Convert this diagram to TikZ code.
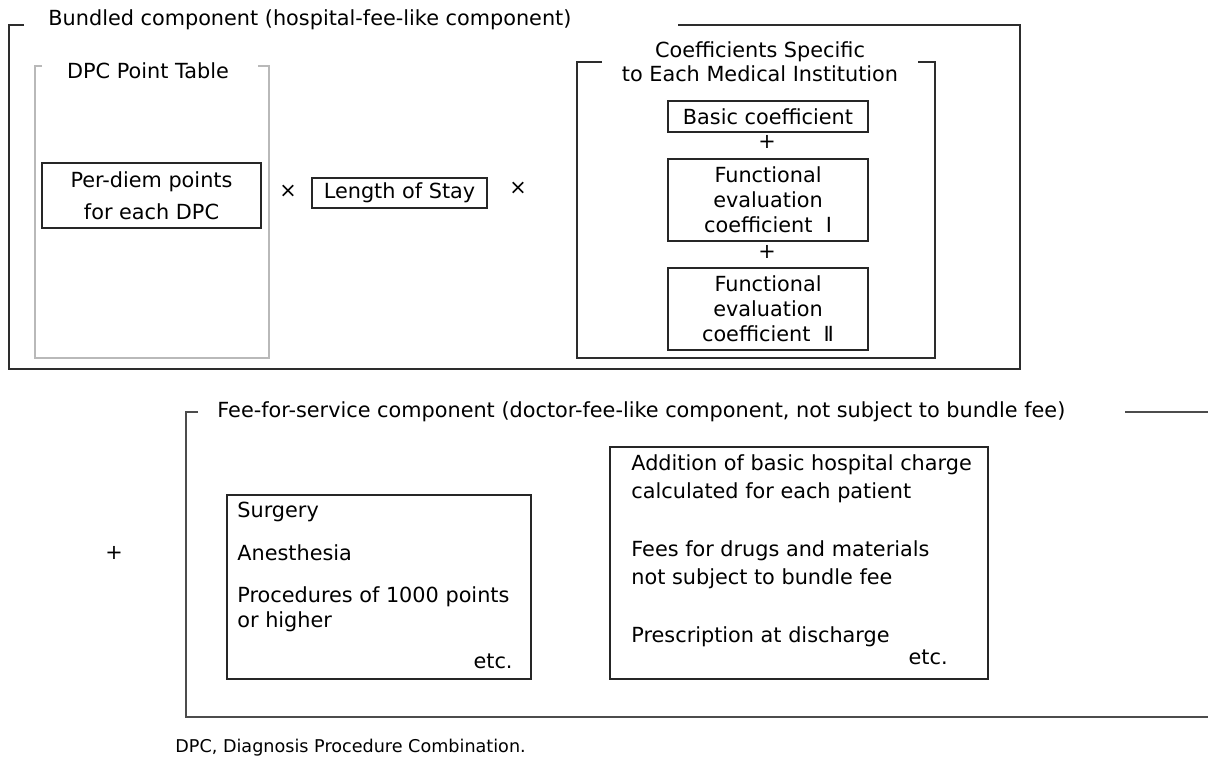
\documentclass[tikz,border=0pt]{standalone}
\usepackage{fontspec}
\setmainfont{DejaVu Sans}
\usepackage{tikz}
\usepackage{xcolor}
\usetikzlibrary{positioning}
\definecolor{framegray}{RGB}{45,45,45}
\definecolor{tablegray}{RGB}{185,185,185}

\tikzset{
	outerframe/.style={draw=framegray, line width=1pt},
	feeframe/.style={draw=framegray!85, line width=0.8pt},
	tableframe/.style={draw=tablegray, line width=0.6pt},
	box/.style={draw=black!85, line width=0.6pt, inner sep=0pt, align=center, font=\fontsize{10.4}{12.5}\selectfont},
	lbl/.style={inner sep=0pt, font=\fontsize{10.4}{12.5}\selectfont},
}

\begin{document}
\begin{tikzpicture}[x=0.5pt,y=-0.5pt]
				\useasboundingbox (0,0) rectangle (1208,760);

				% partie forfaitaire
				\node[lbl, anchor=west] (bundtitle) at (48,20) {Bundled component (hospital-fee-like component)};
				\draw[outerframe] (24,25) -- (9,25) -- (9,369) -- (1020,369) -- (1020,25) -- (678,25);

				\node[lbl] (dpctitle) at (148,71) {DPC Point Table};
				\draw[tableframe] (42,66) -- (35,66) -- (35,358) -- (269,358) -- (269,66) -- (258,66);
				\node[box, minimum width=109.5pt, minimum height=32.5pt] (perdiem) at (151.5,195.5) {Per-diem points\\[3.5pt]for each DPC};

				\node[lbl] (timesone) at (288,191) {×};
				\node[box, minimum width=87.5pt, minimum height=15pt] (stay) at (399.5,193) {Length of Stay};
				\node[lbl] (timestwo) at (518,188) {×};

				\node[lbl, align=center, font=\fontsize{10.4}{12}\selectfont] (coeftitle) at (760,62) {Coefficients Specific\\to Each Medical Institution};
				\draw[outerframe, line width=0.7pt] (602,62) -- (577,62) -- (577,358) -- (935,358) -- (935,62) -- (918,62);
				\node[box, minimum width=100pt, minimum height=15.5pt] (basic) at (768,116.5) {Basic coefficient};
				\node[lbl] (plusone) at (767,142) {+};
				\node[box, minimum width=100pt, minimum height=41pt] (funcone) at (768,200) {Functional\\evaluation\\coefficient~~Ⅰ};
				\node[lbl] (plustwo) at (767,252) {+};
				\node[box, minimum width=100pt, minimum height=41pt] (functwo) at (768,309) {Functional\\evaluation\\coefficient~~Ⅱ};

				% partie a l'acte
				\node[lbl] (plusthree) at (114,553) {+};
				\node[lbl, anchor=west] (feetitle) at (217,412) {Fee-for-service component (doctor-fee-like component, not subject to bundle fee)};
				\draw[feeframe] (198,412) -- (186,412) -- (186,717) -- (1208,717);
				\draw[feeframe] (1125,412) -- (1208,412);

				\node[box, minimum width=152pt, minimum height=92pt] (surgbox) at (379,587) {};
				\node[lbl, anchor=north west, align=left] (surgtext) at (237,502) {Surgery\\[9pt]Anesthesia\\[8.5pt]Procedures of 1000 points\\or higher};
				\node[lbl, anchor=base east] (surgetc) at (513,668) {etc.};

				\node[box, minimum width=189pt, minimum height=116pt] (addbox) at (799,563) {};
				\node[lbl, anchor=north west, align=left, font=\fontsize{10.4}{14}\selectfont] (addtext) at (631,454) {Addition of basic hospital charge\\calculated for each patient\\[15pt]Fees for drugs and materials\\not subject to bundle fee\\[15pt]Prescription at discharge};
				\node[lbl, anchor=base east] (addetc) at (948,664) {etc.};

				\node[lbl, anchor=west, font=\fontsize{8.8}{10}\selectfont] (footnote) at (175,748) {DPC, Diagnosis Procedure Combination.};
			\end{tikzpicture}
\end{document}
